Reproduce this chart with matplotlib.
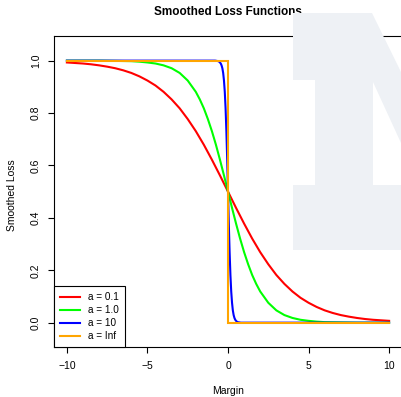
import numpy as np
import matplotlib
matplotlib.use("Agg")
import matplotlib.pyplot as plt
from matplotlib.patches import Polygon

plt.rcParams['font.family'] = ['Liberation Sans', 'DejaVu Sans']

# values
x_red = [-10, -9.5, -9, -8.5, -8, -7.5, -7, -6.5, -6, -5.5, -5, -4.5, -4, -3.5, -3, -2.5, -2, -1.5, -1, -0.5,
         0, 0.5, 1, 1.5, 2, 2.5, 3, 3.5, 4, 4.5, 5, 5.5, 6, 6.5, 7, 7.5, 8, 8.5, 9, 9.5, 10]
y_red = [0.993, 0.991, 0.989, 0.986, 0.982, 0.977, 0.971, 0.963, 0.953, 0.940, 0.924, 0.905, 0.881, 0.852,
         0.818, 0.777, 0.731, 0.679, 0.622, 0.562, 0.500, 0.438, 0.378, 0.321, 0.269, 0.223, 0.182, 0.148,
         0.119, 0.095, 0.076, 0.060, 0.047, 0.037, 0.029, 0.023, 0.018, 0.014, 0.011, 0.009, 0.007]

x_green = [-10, -8, -7, -6, -5.5, -5, -4.5, -4, -3.5, -3, -2.5, -2, -1.75, -1.5, -1.25, -1, -0.75, -0.5, -0.25,
           0, 0.25, 0.5, 0.75, 1, 1.25, 1.5, 1.75, 2, 2.5, 3, 3.5, 4, 4.5, 5, 5.5, 6, 7, 8, 10]
y_green = [1.000, 1.000, 0.999, 0.998, 0.996, 0.993, 0.989, 0.982, 0.971, 0.953, 0.924, 0.881, 0.852, 0.818,
           0.777, 0.731, 0.679, 0.622, 0.562, 0.500, 0.438, 0.378, 0.321, 0.269, 0.223, 0.182, 0.148, 0.119,
           0.076, 0.047, 0.029, 0.018, 0.011, 0.007, 0.004, 0.002, 0.001, 0.000, 0.000]

x_blue = [-10, -1, -0.8, -0.7, -0.6, -0.55, -0.5, -0.45, -0.4, -0.35, -0.3, -0.25, -0.2, -0.15, -0.1, -0.05,
          0, 0.05, 0.1, 0.15, 0.2, 0.25, 0.3, 0.35, 0.4, 0.45, 0.5, 0.55, 0.6, 0.7, 0.8, 1, 10]
y_blue = [1.000, 1.000, 1.000, 0.999, 0.998, 0.996, 0.993, 0.989, 0.982, 0.971, 0.953, 0.924, 0.881, 0.818,
          0.731, 0.622, 0.500, 0.378, 0.269, 0.182, 0.119, 0.076, 0.047, 0.029, 0.018, 0.011, 0.007, 0.004,
          0.002, 0.001, 0.000, 0.000, 0.000]

x_orange = [-10, 0, 0, 10]
y_orange = [1, 1, 0, 0]

labels = ["a = 0.1", "a = 1.0", "a = 10", "a = Inf"]
colors = ["#FF0000", "#00FF00", "#0000FF", "#FFA500"]

W, H = 401, 397
fig = plt.figure(figsize=(W / 100, H / 100), dpi=100)

# faint "N" watermark behind the plot (pixel coords, top-left origin)
outer = [(293, 13), (372, 13), (401, 72), (401, 250), (293, 250), (293, 185),
         (315, 185), (315, 80), (293, 80)]
counter = [(373, 82), (401, 143), (401, 185), (373, 185)]
for pts, col in [(outer, "#EEF1F5"), (counter, "white")]:
    fig.patches.append(Polygon([(px / W, 1 - py / H) for px, py in pts], closed=True,
                               transform=fig.transFigure, facecolor=col, edgecolor="none",
                               zorder=0))

ax = fig.add_axes([54 / W, 1 - 347.3 / H, 348 / W, 311.3 / H])
ax.patch.set_alpha(0)

for xs, ys, c, lab in zip([x_red, x_green, x_blue, x_orange], [y_red, y_green, y_blue, y_orange],
                          colors, labels):
    ax.plot(xs, ys, color=c, lw=1.5, label=lab, solid_joinstyle="miter")

ax.set_xlim(-10.8, 10.8)
ax.set_ylim(-0.094, 1.094)
ax.set_xticks([-10, -5, 0, 5, 10])
ax.set_xticklabels(["\u221210", "\u22125", "0", "5", "10"])
ax.set_yticks([0, 0.2, 0.4, 0.6, 0.8, 1.0])
ax.set_yticklabels(["0.0", "0.2", "0.4", "0.6", "0.8", "1.0"], rotation=90, va="center")
ax.tick_params(length=4.3, width=0.8, labelsize=7.5, pad=5)
ax.tick_params(axis="x", pad=5.5)
for s in ax.spines.values():
    s.set_linewidth(0.8)

ax.set_xlabel("Margin", fontsize=7.5, va="center")
ax.xaxis.set_label_coords(0.5, -0.139)
ax.set_ylabel("Smoothed Loss", fontsize=7.5, va="center")
ax.yaxis.set_label_coords(-0.1216, 0.49)
ax.set_title("Smoothed Loss Functions", fontsize=8.5, fontweight="bold", y=1.077, va="center", pad=0)

leg = ax.legend(loc="lower left", fontsize=7.2, borderaxespad=0, fancybox=False,
                edgecolor="black", framealpha=1, handlelength=2.0, handletextpad=0.8,
                labelspacing=0.3, borderpad=0.6)
leg.get_frame().set_linewidth(0.8)

fig.savefig("out.png", dpi=100)
